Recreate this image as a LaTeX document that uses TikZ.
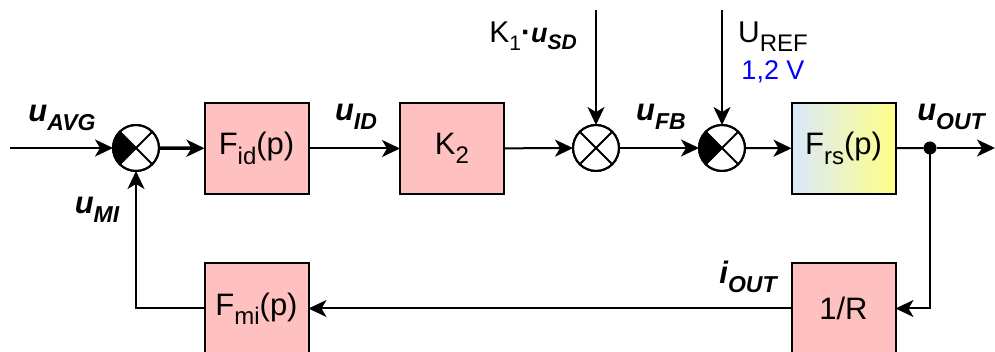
\documentclass[tikz,border=0pt]{standalone}
\usepackage{fontspec}
\setmainfont{Liberation Sans}
\usetikzlibrary{arrows.meta}
\definecolor{pinkbox}{RGB}{255,192,192}
\definecolor{gradL}{RGB}{218,232,252}
\definecolor{gradR}{RGB}{255,255,136}
\definecolor{blueV}{RGB}{0,0,255}
\newcommand\bsub[1]{\raisebox{-0.3em}{\fontsize{24}{24}\selectfont #1}}
\newcommand\lsub[1]{\raisebox{-0.3em}{\fontsize{23}{23}\selectfont #1}}
\newcommand\ksub[1]{\raisebox{-0.25em}{\fontsize{21}{21}\selectfont #1}}
\begin{document}
\begin{tikzpicture}[x=1pt,y=-1pt,
  blk/.style={draw, line width=2pt, minimum width=104pt, minimum height=91pt, inner sep=0pt, outer sep=0pt, fill=pinkbox, font=\fontsize{31}{31}\selectfont},
  sumj/.style={draw, circle, line width=2pt, minimum size=46pt, inner sep=0pt, outer sep=0pt, fill=white},
  conn/.style={line width=2pt, -{Stealth[length=18pt,width=17pt,inset=5pt]}},
  wire/.style={line width=2pt},
  lab/.style={inner sep=0pt, font=\fontsize{31}{31}\selectfont\bfseries\itshape},
  txt/.style={inner sep=0pt, font=\fontsize{30}{30}\selectfont}
]
\useasboundingbox (0,0) rectangle (995,352);
% blocks
\node[blk] (fid) at (256.5,148.5) {F\bsub{id}(p)};
\node[blk] (k2) at (452,148.5) {K\bsub{2}};
\node[blk, fill=none, left color=gradL, right color=gradR] (frs) at (843.5,148.5) {F\bsub{rs}(p)};
\node[blk] (fmi) at (256.5,308.5) {F\bsub{mi}(p)};
\node[blk] (invr) at (843.5,308.5) {1/R};
% summing junctions
\node[sumj] (c1) at (136,148) {};
\node[sumj] (c2) at (596,148) {};
\node[sumj] (c3) at (722,148) {};
\fill (c1.center) -- (c1.135) arc[start angle=135, end angle=225, radius=23pt] -- cycle;
\fill (c3.center) -- (c3.135) arc[start angle=135, end angle=225, radius=23pt] -- cycle;
\foreach \c in {c1,c2,c3}{
  \draw[wire] (\c.45) -- (\c.225) (\c.135) -- (\c.315);
  \draw[wire] (\c) circle[radius=23pt];
}
% branch dot
\node[circle, fill, minimum size=13pt, inner sep=0pt, outer sep=0pt] (dot) at (930,148) {};
% free ends
\coordinate (in) at (10,148);
\coordinate (out) at (995,148);
\coordinate (tk1) at (596,10);
\coordinate (tref) at (722,10);
% connectors
\draw[conn] (in) -- (c1);
\draw[conn, line width=3.5pt] (c1) -- (fid);
\draw[conn] (fid) -- (k2);
\draw[conn] (k2) -- (c2);
\draw[conn] (c2) -- (c3);
\draw[conn] (c3) -- (frs);
\draw[wire] (frs) -- (dot);
\draw[conn] (dot) -- (out);
\draw[conn] (dot) |- (invr);
\draw[conn] (invr) -- (fmi);
\draw[conn] (fmi) -| (c1);
\draw[conn] (tk1) -- (c2);
\draw[conn] (tref) -- (c3);
% labels
\node[lab] (lavg) at (62,118) {u\lsub{AVG}};
\node[lab] (lid) at (356,117) {u\lsub{ID}};
\node[lab] (lfb) at (661,117) {u\lsub{FB}};
\node[lab] (lout) at (951,117) {u\lsub{OUT}};
\node[lab] (lmi) at (97,210) {u\lsub{MI}};
\node[lab] (liout) at (748,277) {i\lsub{OUT}};
\node[txt] (lk1) at (533,36) {K\ksub{1}\textbf{·}\textbf{\textit{\fontsize{27}{27}\selectfont u\ksub{SD}}}};
\node[txt] (lref) at (773,37) {U\bsub{REF}};
\node[txt, text=blueV, font=\fontsize{27}{27}\selectfont] (lv) at (773,72) {1,2 V};
\end{tikzpicture}
\end{document}
